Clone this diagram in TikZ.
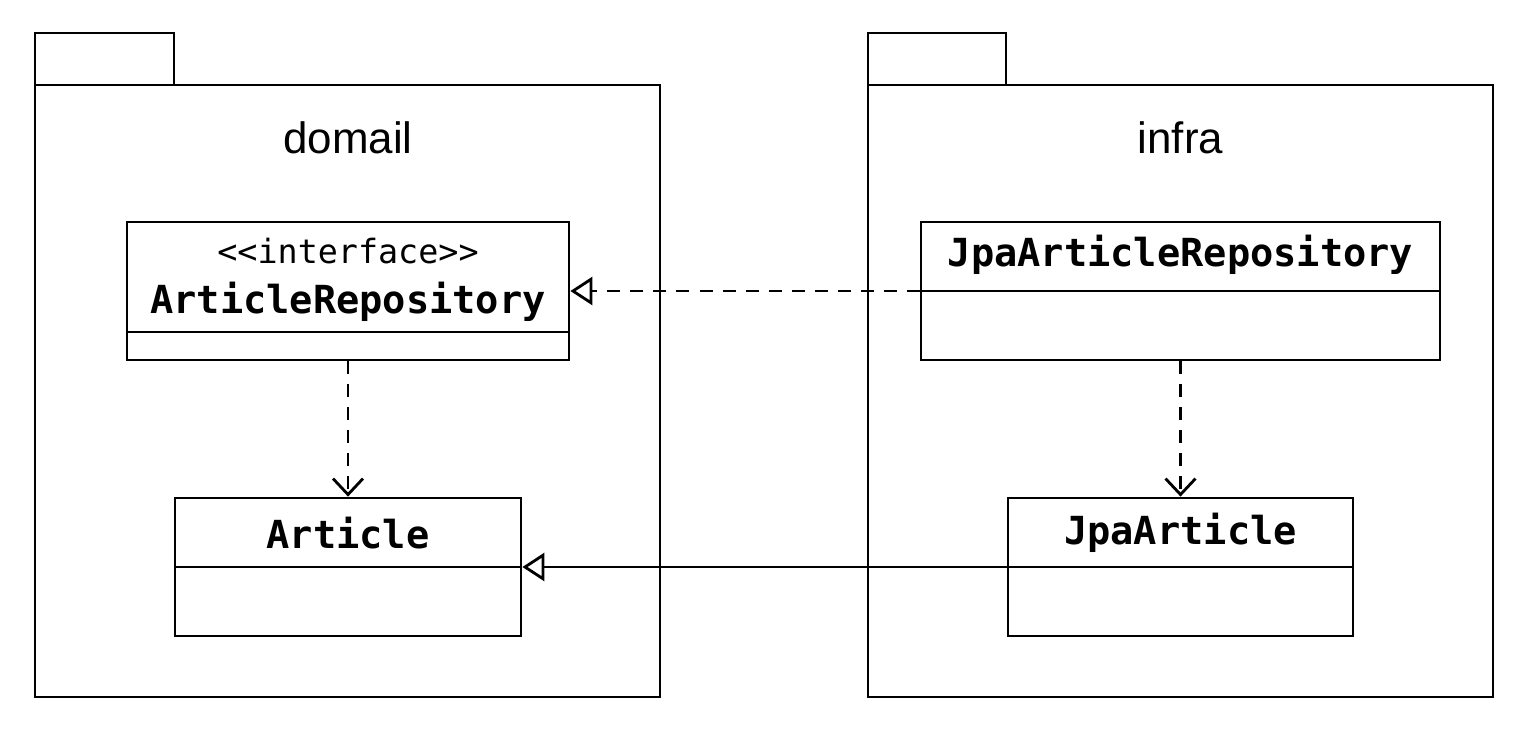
\documentclass[tikz,border=0pt]{standalone}
\usepackage{fontspec}
\setmainfont{Liberation Sans}
\newfontfamily\monofont{DejaVu Sans Mono}
\usetikzlibrary{arrows.meta}

\tikzset{
  pkg/.style={draw, line width=1.6pt},
  classbox/.style={draw, line width=1.6pt, rectangle, minimum height=2.76cm, inner sep=0pt},
  classname/.style={font=\monofont\bfseries\fontsize{22}{26}\selectfont, inner sep=0pt},
  stereo/.style={font=\monofont\fontsize{19}{22}\selectfont, inner sep=0pt},
  realize/.style={line width=1.6pt, dash pattern=on 7.4pt off 5.7pt, -{Triangle[open, length=0.44cm, width=0.56cm]}},
  depend/.style={line width=1.6pt, dash pattern=on 7.4pt off 5.7pt, -{Straight Barb[length=0.32cm, width=0.6cm]}},
  inherit/.style={line width=1.6pt, -{Triangle[open, length=0.44cm, width=0.56cm]}}
}

\begin{document}
\begin{tikzpicture}[x=0.02cm, y=-0.02cm]
    \useasboundingbox (0, 0) rectangle (1536, 731);

    % パッケージ
    \draw[pkg] (35, 33) rectangle (174, 85);
    \draw[pkg] (35, 85) rectangle (660, 697);
    \draw[pkg] (868, 33) rectangle (1006, 85);
    \draw[pkg] (868, 85) rectangle (1493, 697);
    \node[font=\fontsize{25}{30}\selectfont, inner sep=0pt] (domail) at (348, 138) {domail};
    \node[font=\fontsize{25}{30}\selectfont, inner sep=0pt] (infra) at (1180.5, 138) {infra};

    % クラス
    \node[classbox, minimum width=8.84cm] (repo) at (348, 291) {};
    \node[classbox, minimum width=10.38cm] (jparepo) at (1180.5, 291) {};
    \node[classbox, minimum width=6.92cm] (art) at (348, 567) {};
    \node[classbox, minimum width=6.9cm] (jpaart) at (1180.5, 567) {};

    % 区切り線
    \draw[line width=1.6pt] (repo.west |- 0, 332) -- (repo.east |- 0, 332);
    \draw[line width=1.6pt] (jparepo.west) -- (jparepo.east);
    \draw[line width=1.6pt] (art.west) -- (art.east);
    \draw[line width=1.6pt] (jpaart.west) -- (jpaart.east);

    % 名前を入れる
    \node[stereo] (repostereo) at (348, 251) {<{}<interface>{}>};
    \node[classname] (reponame) at (348, 302) {ArticleRepository};
    \node[classname] (jpareponame) at (1180.5, 255) {JpaArticleRepository};
    \node[classname] (artname) at (348, 533) {Article};
    \node[classname] (jpaartname) at (1180.5, 533) {JpaArticle};

    % 線を引く
    \draw[realize] (jparepo.west) -- (repo.east);
    \draw[depend] (repo.south) -- (art.north);
    \draw[depend] (jparepo.south) -- (jpaart.north);
    \draw[inherit] (jpaart.west) -- (art.east);

  \end{tikzpicture}
\end{document}
